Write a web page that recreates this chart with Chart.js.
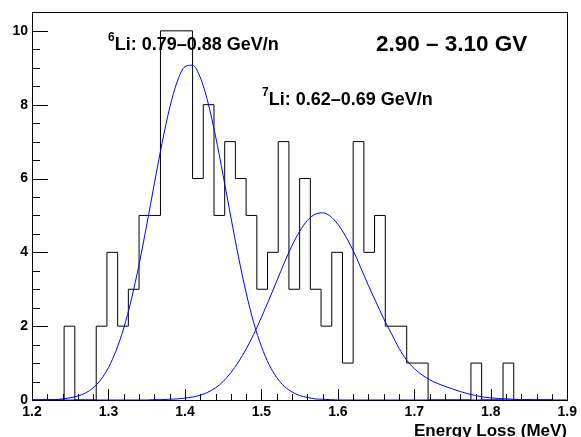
<!DOCTYPE html>
<html>
<head>
<meta charset="utf-8">
<script src="https://cdn.jsdelivr.net/npm/chart.js@4"></script>
<style>
  html, body { margin: 0; padding: 0; background: #fff; }
  #wrap { width: 581px; height: 437px; }
</style>
</head>
<body>
<div id="wrap"><canvas id="dedx" width="581" height="437"></canvas></div>
<script>
// energy loss histogram, 50 bins of 0.014 MeV between 1.2 and 1.9
const binLow = 1.2;
const binWidth = 0.014;
const binCounts = [
  0, 0, 0, 2, 0, 0, 2, 4, 2, 3,
  5, 5, 10, 10, 10, 6, 8, 5, 7, 6,
  5, 3, 4, 7, 3, 6, 3, 2, 4, 1,
  7, 4, 5, 2, 2, 1, 1, 0, 0, 0,
  0, 1, 0, 0, 1, 0, 0, 0, 0, 0
];

// fitted curves, sampled every 0.01 MeV from 1.20 to 1.88
const fitStart = 1.2;
const fitStep = 0.01;
const li6Fit = [
  0, 0, 0.01, 0.01, 0.03, 0.06, 0.11, 0.19, 0.33, 0.55,
  0.88, 1.34, 1.95, 2.73, 3.67, 4.74, 5.86, 6.95, 7.91, 8.63,
  9.03, 9.07, 8.74, 8.07, 7.15, 6.08, 4.96, 3.88, 2.91, 2.09,
  1.45, 0.96, 0.61, 0.37, 0.22, 0.12, 0.07, 0.03, 0.02, 0.01,
  0, 0, 0, 0, 0, 0, 0, 0, 0, 0,
  0, 0, 0, 0, 0, 0, 0, 0, 0, 0,
  0, 0, 0, 0, 0, 0, 0, 0, 0
];
const li7Fit = [
  0, 0, 0, 0, 0, 0, 0, 0, 0, 0,
  0, 0, 0, 0, 0, 0, 0.01, 0.01, 0.02, 0.03,
  0.05, 0.08, 0.13, 0.21, 0.33, 0.50, 0.74, 1.03, 1.38, 1.78,
  2.24, 2.72, 3.22, 3.72, 4.18, 4.57, 4.86, 5.03, 5.07, 4.98,
  4.76, 4.44, 4.05, 3.58, 3.10, 2.65, 2.20, 1.80, 1.40, 1.08,
  0.85, 0.68, 0.55, 0.45, 0.37, 0.30, 0.23, 0.17, 0.12, 0.08,
  0.06, 0.04, 0.03, 0.02, 0.01, 0.01, 0, 0, 0
];

const xTicks = [1.2, 1.3, 1.4, 1.5, 1.6, 1.7, 1.8, 1.9];
const yTicks = [0, 2, 4, 6, 8, 10];

const FONT = '"Liberation Sans", Arial, Helvetica, sans-serif';

// step outline: one point per left bin edge, closed at 1.9
const histPoints = binCounts.map((c, i) => ({ x: binLow + i * binWidth, y: c }));
histPoints.push({ x: binLow + binCounts.length * binWidth, y: 0 });

const fitPoints = arr => arr.map((v, i) => ({ x: fitStart + i * fitStep, y: v }));

// ROOT-like frame with inward ticks
const frameTicks = {
  id: 'frameTicks',
  beforeDatasetsDraw(chart) {
    const { ctx, chartArea: a, scales: { x, y } } = chart;
    ctx.save();
    ctx.strokeStyle = '#000';
    ctx.lineWidth = 1;
    ctx.beginPath();
    for (let i = 0; i <= 35; i++) {
      const px = Math.round(x.getPixelForValue(1.2 + i * 0.02)) + 0.5;
      const len = i % 5 === 0 ? 11 : 6;
      ctx.moveTo(px, a.bottom);
      ctx.lineTo(px, a.bottom - len);
    }
    for (let i = 0; i <= 21; i++) {
      const py = Math.round(y.getPixelForValue(i * 0.5)) + 0.5;
      const len = i % 4 === 0 ? 16 : 8;
      ctx.moveTo(a.left, py);
      ctx.lineTo(a.left + len, py);
    }
    ctx.stroke();
    ctx.strokeRect(Math.round(a.left) + 0.5, Math.round(a.top) + 0.5,
      Math.round(a.right - a.left), Math.round(a.bottom - a.top));
    ctx.restore();
  }
};

// labels on the pad
const padText = {
  id: 'padText',
  afterDraw(chart) {
    const { ctx } = chart;
    ctx.save();
    ctx.fillStyle = '#000';
    ctx.textBaseline = 'alphabetic';
    ctx.textAlign = 'left';

    const isoLabel = (mass, text, x, yBase) => {
      ctx.font = `bold 12px ${FONT}`;
      ctx.fillText(mass, x, yBase - 9);
      const w = ctx.measureText(mass).width;
      ctx.font = `bold 18px ${FONT}`;
      ctx.fillText(text, x + w, yBase);
    };
    isoLabel('6', 'Li: 0.79\u20130.88 GeV/n', 108, 50);
    isoLabel('7', 'Li: 0.62\u20130.69 GeV/n', 262, 105);

    ctx.font = `bold 22.5px ${FONT}`;
    ctx.fillText('2.90 \u2013 3.10 GV', 376, 51);

    ctx.font = `bold 17px ${FONT}`;
    ctx.textAlign = 'right';
    ctx.fillText('Energy Loss (MeV)', 567, 436);
    ctx.restore();
  }
};

new Chart(document.getElementById('dedx'), {
  type: 'line',
  data: {
    datasets: [
      {
        data: histPoints,
        stepped: true,
        borderColor: '#000',
        borderWidth: 1,
        pointRadius: 0,
        fill: false,
        order: 2
      },
      {
        data: fitPoints(li6Fit),
        borderColor: '#0000ff',
        borderWidth: 1,
        pointRadius: 0,
        cubicInterpolationMode: 'monotone',
        fill: false,
        order: 1
      },
      {
        data: fitPoints(li7Fit),
        borderColor: '#0000ff',
        borderWidth: 1,
        pointRadius: 0,
        cubicInterpolationMode: 'monotone',
        fill: false,
        order: 1
      }
    ]
  },
  options: {
    responsive: false,
    animation: false,
    events: [],
    layout: { padding: { top: 11, right: 11, left: 0, bottom: 0 } },
    plugins: { legend: { display: false }, tooltip: { enabled: false } },
    scales: {
      x: {
        type: 'linear',
        min: 1.2,
        max: 1.9,
        grid: { display: false, drawTicks: false },
        border: { display: false },
        ticks: {
          autoSkip: false,
          maxRotation: 0,
          padding: 4,
          color: '#000',
          font: { family: FONT, size: 14, weight: 'bold' },
          callback: v => Number(v).toFixed(1)
        },
        afterBuildTicks: s => { s.ticks = xTicks.map(v => ({ value: v })); },
        afterFit: s => { s.height = 37; }
      },
      y: {
        type: 'linear',
        min: 0,
        max: 10.5,
        grid: { display: false, drawTicks: false },
        border: { display: false },
        ticks: {
          padding: 4,
          color: '#000',
          font: { family: FONT, size: 14, weight: 'bold' },
          callback: v => String(v)
        },
        afterBuildTicks: s => { s.ticks = yTicks.map(v => ({ value: v })); },
        afterFit: s => { s.width = 32; }
      }
    }
  },
  plugins: [frameTicks, padText]
});
</script>
</body>
</html>
